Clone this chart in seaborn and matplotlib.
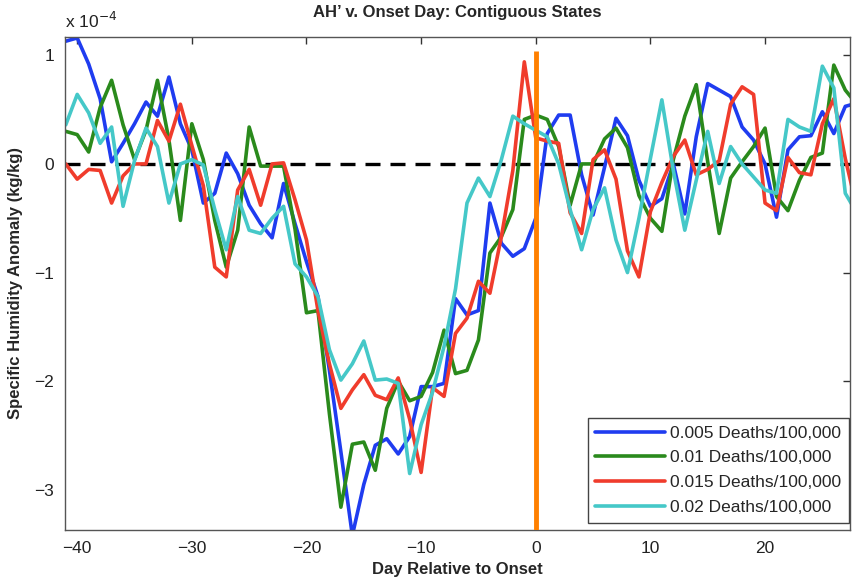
import numpy as np
import pandas as pd
import matplotlib
matplotlib.use("Agg")
import matplotlib.pyplot as plt
import seaborn as sns

# days relative to onset
days = list(range(-41, 29))

# specific humidity anomaly, in units of 1e-4 kg/kg
sh_0005 = [1.13, 1.16, 0.92, 0.60, 0.02, 0.19, 0.37, 0.57, 0.44, 0.80,
           0.37, 0.13, -0.36, -0.27, 0.10, -0.09, -0.38, -0.55, -0.68, -0.18,
           -0.55, -0.90, -1.22, -1.90, -2.65, -3.42, -2.95, -2.59, -2.53, -2.67,
           -2.51, -2.05, -2.05, -2.02, -1.24, -1.39, -1.35, -0.36, -0.73, -0.85,
           -0.78, -0.50, 0.28, 0.45, 0.45, -0.10, -0.47, -0.03, 0.42, 0.26,
           -0.15, -0.39, -0.32, 0.00, -0.46, 0.25, 0.74, 0.68, 0.62, 0.34,
           0.22, 0.00, -0.49, 0.13, 0.25, 0.26, 0.48, 0.28, 0.53, 0.56]
sh_001 = [0.30, 0.27, 0.11, 0.52, 0.77, 0.36, 0.04, 0.31, 0.77, 0.22,
          -0.52, 0.37, 0.04, -0.52, -0.95, -0.61, 0.34, -0.02, -0.02, -0.02,
          -0.60, -1.37, -1.35, -2.30, -3.16, -2.58, -2.56, -2.82, -2.25, -2.00,
          -2.18, -2.14, -1.92, -1.53, -1.93, -1.90, -1.62, -0.82, -0.67, -0.42,
          0.41, 0.45, 0.41, 0.16, -0.38, 0.00, 0.00, 0.23, 0.33, 0.15,
          -0.29, -0.50, -0.62, 0.04, 0.44, 0.73, 0.02, -0.64, -0.13, 0.02,
          0.16, 0.33, -0.30, -0.43, -0.15, 0.06, 0.10, 0.91, 0.68, 0.55]
sh_0015 = [0.00, -0.14, -0.05, -0.06, -0.36, -0.11, 0.00, 0.00, 0.40, 0.21,
           0.55, 0.17, -0.20, -0.95, -1.04, -0.24, -0.05, -0.38, 0.00, 0.01,
           -0.33, -0.70, -1.35, -1.84, -2.25, -2.08, -1.94, -2.13, -2.17, -1.97,
           -2.35, -2.84, -2.06, -2.14, -1.56, -1.42, -1.08, -1.19, -0.67, -0.06,
           0.94, 0.24, 0.21, 0.19, -0.45, -0.64, 0.04, 0.13, -0.14, -0.80,
           -1.04, -0.44, -0.17, 0.07, 0.22, -0.10, -0.05, 0.03, 0.55, 0.71,
           0.64, -0.36, -0.43, 0.06, -0.08, -0.10, 0.37, 0.60, 0.05, -0.40]
sh_002 = [0.36, 0.64, 0.47, 0.19, 0.34, -0.39, 0.03, 0.33, 0.16, -0.36,
          0.00, 0.04, -0.01, -0.42, -0.79, -0.30, -0.61, -0.64, -0.50, -0.39,
          -0.92, -1.04, -1.22, -1.71, -1.99, -1.84, -1.63, -1.99, -1.98, -2.02,
          -2.85, -2.40, -2.10, -1.68, -1.15, -0.36, -0.13, -0.30, 0.04, 0.44,
          0.37, 0.31, 0.25, 0.00, -0.42, -0.79, -0.42, -0.22, -0.70, -1.00,
          -0.50, 0.05, 0.59, -0.06, -0.61, -0.15, 0.30, -0.18, 0.16, 0.00,
          -0.12, -0.24, -0.27, 0.41, 0.34, 0.30, 0.90, 0.70, -0.27, -0.45]

labels = ["0.005 Deaths/100,000", "0.01 Deaths/100,000",
          "0.015 Deaths/100,000", "0.02 Deaths/100,000"]
colors = ["#1f3cf0", "#2a8a1c", "#f03c2c", "#45c8c8"]
onset_day = 0

df = pd.concat([
    pd.DataFrame({"day": days, "anomaly": vals, "threshold": lab})
    for vals, lab in zip([sh_0005, sh_001, sh_0015, sh_002], labels)
])

sns.set_style("white")
plt.rcParams["font.family"] = ["Liberation Sans", "DejaVu Sans"]

fig = plt.figure(figsize=(8.52, 5.85), dpi=100)
ax = fig.add_axes([0.0765, 0.094, 0.921, 0.843])

ax.axhline(0, color="black", lw=2.4, ls=(0, (4.5, 3)), zorder=1)
sns.lineplot(data=df, x="day", y="anomaly", hue="threshold",
             palette=colors, hue_order=labels, lw=2.6, ax=ax, zorder=2)
ax.vlines(onset_day, -3.37, 1.04, color="#ff8000", lw=3.5, zorder=3)

ax.set_xlim(-41.05, 27.4)
ax.set_ylim(-3.37, 1.17)
ax.set_xticks([-40, -30, -20, -10, 0, 10, 20])
ax.set_yticks([-3, -2, -1, 0, 1])
ax.set_yticklabels(["\u22123", "\u22122", "\u22121", "0", "1"])
ax.set_xticklabels(["\u221240", "\u221230", "\u221220", "\u221210", "0", "10", "20"])
ax.tick_params(direction="in", length=5, width=1, top=True, right=True,
               labelsize=12.5, colors="#333333", labelcolor="#222222", pad=8)
for s in ax.spines.values():
    s.set_color("#555555")
    s.set_linewidth(1)

ax.set_xlabel("Day Relative to Onset", fontsize=12, fontweight="bold", labelpad=4)
ax.set_ylabel("Specific Humidity Anomaly (kg/kg)", fontsize=12,
              fontweight="bold", labelpad=8)
ax.set_title("AH\u2019 v. Onset Day: Contiguous States", fontsize=12,
             fontweight="bold", pad=14)
ax.text(0.0, 1.012, r"x 10$^{-4}$", transform=ax.transAxes, fontsize=12.5,
        ha="left", va="bottom", color="#222222")

ax.legend(loc="lower right", bbox_to_anchor=(0.999, 0.015), fontsize=12.5,
          frameon=True, fancybox=False, edgecolor="#444444", framealpha=1,
          handlelength=4.0, borderpad=0.45, labelspacing=0.55,
          handletextpad=0.3, borderaxespad=0.0)

fig.savefig("out.png", dpi=100)
